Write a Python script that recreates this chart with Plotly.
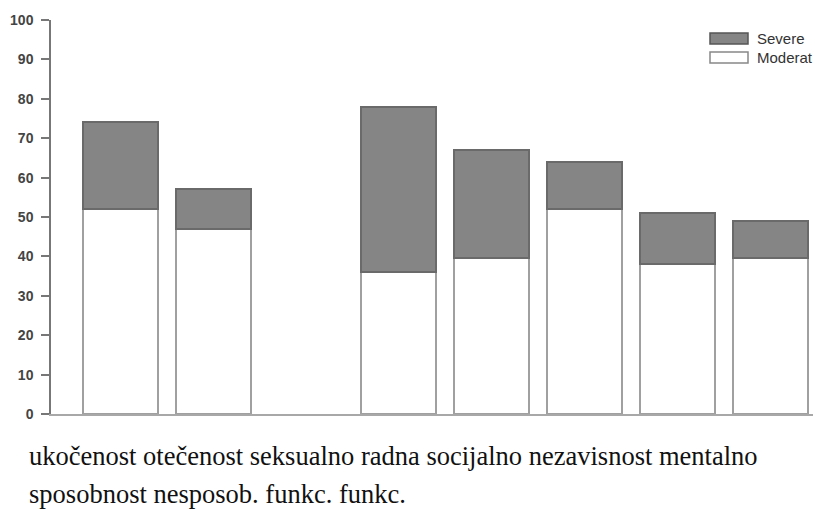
import plotly.graph_objects as go

# Data
slots = [0, 1, 2, 3, 4, 5, 6, 7]
moderate = [52, 47, None, 36, 39.5, 52, 38, 39.5]
severe = [22, 10, None, 42, 27.5, 12, 13, 9.5]
series_names = ["Severe", "Moderat"]
y_ticks = [0, 10, 20, 30, 40, 50, 60, 70, 80, 90, 100]
caption_lines = [
    "ukočenost otečenost seksualno radna socijalno nezavisnost mentalno",
    "sposobnost nesposob. funkc. funkc.",
]

W, H = 815, 510
L, R, T, B = 51, 2, 20, 96

fig = go.Figure()
fig.add_trace(go.Bar(
    x=slots, y=moderate, name=series_names[1], width=0.807,
    marker=dict(color="#ffffff", line=dict(color="#a0a0a0", width=2)),
    showlegend=False,
))
fig.add_trace(go.Bar(
    x=slots, y=severe, name=series_names[0], width=0.807,
    marker=dict(color="#858585", line=dict(color="#6a6a6a", width=2)),
    showlegend=False,
))

def px_to_paper_x(px):
    return (px - L) / (W - L - R)

def px_to_paper_y(py):
    return (H - B - py) / (H - T - B)

legend_items = [
    (series_names[0], "#858585", "#555555", 33),
    (series_names[1], "#ffffff", "#888888", 52),
]
for name, fill, line, ytop in legend_items:
    fig.add_shape(type="rect", xref="paper", yref="paper",
                  x0=px_to_paper_x(710), x1=px_to_paper_x(748),
                  y0=px_to_paper_y(ytop + 11), y1=px_to_paper_y(ytop),
                  fillcolor=fill, line=dict(color=line, width=1.5))
    fig.add_annotation(xref="paper", yref="paper",
                       x=px_to_paper_x(755), y=px_to_paper_y(ytop + 5.5),
                       xanchor="left", yanchor="middle", showarrow=False,
                       text=name, font=dict(family="Arial, Liberation Sans", size=15, color="#333333"))

caption_y = [456, 494]
for line_text, yc in zip(caption_lines, caption_y):
    fig.add_annotation(xref="paper", yref="paper",
                       x=px_to_paper_x(27), y=px_to_paper_y(yc),
                       xanchor="left", yanchor="middle", showarrow=False,
                       text=line_text,
                       font=dict(family="Liberation Serif, Times New Roman", size=26.5, color="#111111"))

fig.update_layout(
    width=W, height=H,
    margin=dict(l=L, r=R, t=T, b=B),
    paper_bgcolor="white", plot_bgcolor="white",
    barmode="stack", bargap=0,
    showlegend=False,
    xaxis=dict(range=[-0.748, 7.46], showticklabels=False, ticks="",
               showgrid=False, zeroline=False, showline=True,
               linecolor="#a8a8a8", linewidth=2),
    yaxis=dict(range=[0, 100], tickvals=y_ticks, ticks="outside", ticklen=8,
               tickcolor="#777777", tickwidth=1.5, ticklabelstandoff=5,
               showgrid=False, zeroline=False, showline=True,
               linecolor="#777777", linewidth=1.5,
               tickfont=dict(family="Arial, Liberation Sans", size=14, color="#444444", weight="bold")),
)

fig.write_html("out.html", config={"displayModeBar": False},
               post_script="document.body.style.margin='0';document.body.style.overflow='hidden';")
